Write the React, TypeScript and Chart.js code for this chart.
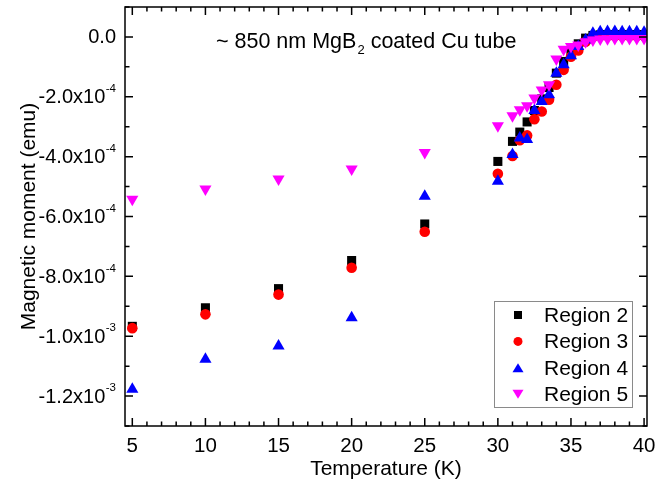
import React, { useEffect, useRef } from 'react';
import { Chart, registerables } from 'chart.js';

Chart.register(...registerables);

// ---- data (temperature in K, magnetic moment in emu) ----
const temperatureK = [5, 10, 15, 20, 25, 30, 31, 31.5, 32, 32.5, 33, 33.5, 34, 34.5, 35, 35.5, 36, 36.5, 37, 37.5, 38, 38.5, 39, 39.5, 40];

const region2 = [-9.67e-4, -9.05e-4, -8.41e-4, -7.47e-4, -6.25e-4, -4.16e-4, -3.49e-4, -3.18e-4, -2.84e-4, -2.46e-4, -2.07e-4, -1.69e-4, -1.21e-4, -0.82e-4, -0.49e-4, -0.23e-4, -0.04e-4, 0.05e-4, 0.07e-4, 0.08e-4, 0.08e-4, 0.08e-4, 0.08e-4, 0.08e-4, 0.08e-4];
const region3 = [-9.73e-4, -9.27e-4, -8.61e-4, -7.71e-4, -6.51e-4, -4.57e-4, -3.98e-4, -3.45e-4, -3.29e-4, -2.75e-4, -2.49e-4, -2.1e-4, -1.6e-4, -1.1e-4, -0.66e-4, -0.45e-4, -0.16e-4, 0.0, 0.03e-4, 0.03e-4, 0.03e-4, 0.03e-4, 0.03e-4, 0.03e-4, 0.03e-4];
const region4 = [-11.77e-4, -10.77e-4, -10.33e-4, -9.38e-4, -5.32e-4, -4.82e-4, -3.93e-4, -3.38e-4, -3.43e-4, -2.46e-4, -2.16e-4, -1.93e-4, -1.21e-4, -0.93e-4, -0.63e-4, -0.32e-4, -0.1e-4, 0.12e-4, 0.17e-4, 0.18e-4, 0.18e-4, 0.17e-4, 0.17e-4, 0.17e-4, 0.16e-4];
const region5 = [-5.42e-4, -5.08e-4, -4.75e-4, -4.41e-4, -3.86e-4, -2.97e-4, -2.63e-4, -2.43e-4, -2.3e-4, -2.04e-4, -1.77e-4, -1.6e-4, -0.74e-4, -0.41e-4, -0.32e-4, -0.27e-4, -0.16e-4, -0.1e-4, -0.07e-4, -0.06e-4, -0.05e-4, -0.05e-4, -0.05e-4, -0.05e-4, -0.05e-4];

const seriesNames = ['Region 2', 'Region 3', 'Region 4', 'Region 5'];

// ---- ticks ----
const xTickValues = [5, 10, 15, 20, 25, 30, 35, 40];
const xTickLabels = ['5', '10', '15', '20', '25', '30', '35', '40'];
const yTickValues = [0, -2e-4, -4e-4, -6e-4, -8e-4, -1.0e-3, -1.2e-3];
const yTickMantissa = ['0.0', '-2.0x10', '-4.0x10', '-6.0x10', '-8.0x10', '-1.0x10', '-1.2x10'];
const yTickExponent = ['', '-4', '-4', '-4', '-4', '-3', '-3'];

const FONT = '"Liberation Sans", Arial, sans-serif';

function drawMarker(ctx: CanvasRenderingContext2D, style: string, x: number, y: number, s: number, color: string) {
  ctx.fillStyle = color;
  ctx.beginPath();
  if (style === 'rect') {
    ctx.rect(x - s / 2, y - s / 2, s, s);
  } else if (style === 'circle') {
    ctx.arc(x, y, s / 2, 0, Math.PI * 2);
  } else if (style === 'up') {
    ctx.moveTo(x, y - s * 0.45);
    ctx.lineTo(x + s * 0.55, y + s * 0.45);
    ctx.lineTo(x - s * 0.55, y + s * 0.45);
    ctx.closePath();
  } else {
    ctx.moveTo(x, y + s * 0.45);
    ctx.lineTo(x + s * 0.55, y - s * 0.45);
    ctx.lineTo(x - s * 0.55, y - s * 0.45);
    ctx.closePath();
  }
  ctx.fill();
}

const originPlugin = {
  id: 'originFrame',
  afterDraw(chart: any) {
    const { ctx, chartArea: a, scales } = chart;
    const xs = scales.x;
    const ys = scales.y;
    ctx.save();
    ctx.strokeStyle = '#000';
    ctx.lineWidth = 1.5;
    ctx.strokeRect(a.left, a.top, a.right - a.left, a.bottom - a.top);

    const majorLen = 8;
    const minorLen = 4.5;
    ctx.beginPath();
    // x ticks (bottom & top), minor every 1 K
    for (let v = xTickValues[0]; v <= xTickValues[xTickValues.length - 1] + 1e-9; v += 1) {
      const px = xs.getPixelForValue(v);
      const len = xTickValues.includes(v) ? majorLen : minorLen;
      ctx.moveTo(px, a.bottom);
      ctx.lineTo(px, a.bottom - len);
      ctx.moveTo(px, a.top);
      ctx.lineTo(px, a.top + len);
    }
    // y ticks (left & right), minor every 1e-4
    for (let i = -13; i <= 1; i++) {
      const v = i * 1e-4;
      const py = ys.getPixelForValue(v);
      const len = i % 2 === 0 ? majorLen : minorLen;
      ctx.moveTo(a.left, py);
      ctx.lineTo(a.left + len, py);
      ctx.moveTo(a.right, py);
      ctx.lineTo(a.right - len, py);
    }
    ctx.stroke();

    // x tick labels
    ctx.fillStyle = '#000';
    ctx.font = `20.5px ${FONT}`;
    ctx.textAlign = 'center';
    ctx.textBaseline = 'alphabetic';
    xTickValues.forEach((v, i) => {
      ctx.fillText(xTickLabels[i], xs.getPixelForValue(v), a.bottom + 26);
    });

    // y tick labels with superscript exponents
    const rightEdge = a.left - 9;
    yTickValues.forEach((v, i) => {
      const py = ys.getPixelForValue(v);
      const exp = yTickExponent[i];
      ctx.textBaseline = 'middle';
      if (exp) {
        ctx.font = `11.5px ${FONT}`;
        const ew = ctx.measureText(exp).width;
        ctx.textAlign = 'left';
        ctx.fillText(exp, rightEdge - ew, py - 8);
        ctx.font = `20px ${FONT}`;
        ctx.textAlign = 'right';
        ctx.fillText(yTickMantissa[i], rightEdge - ew - 0.5, py + 1);
      } else {
        ctx.font = `20px ${FONT}`;
        ctx.textAlign = 'right';
        ctx.fillText(yTickMantissa[i], rightEdge, py + 1);
      }
    });

    // axis titles
    ctx.font = `21px ${FONT}`;
    ctx.textAlign = 'center';
    ctx.textBaseline = 'alphabetic';
    ctx.fillText('Temperature (K)', (a.left + a.right) / 2, a.bottom + 49);
    ctx.save();
    ctx.translate(35, (a.top + a.bottom) / 2);
    ctx.rotate(-Math.PI / 2);
    ctx.fillText('Magnetic moment (emu)', 0, 0);
    ctx.restore();

    // annotation with subscript
    ctx.textAlign = 'left';
    let tx = 216;
    const base = 48;
    const part1 = '~ 850 nm MgB';
    ctx.font = `21.5px ${FONT}`;
    ctx.fillText(part1, tx, base);
    tx += ctx.measureText(part1).width;
    ctx.font = `13px ${FONT}`;
    ctx.fillText('2', tx + 1, base + 6);
    tx += ctx.measureText('2').width + 1;
    ctx.font = `21.5px ${FONT}`;
    ctx.fillText(' coated Cu tube', tx, base);

    // legend
    const lx = 494, ly = 301, lw = 138, lh = 106;
    ctx.fillStyle = '#fff';
    ctx.fillRect(lx, ly, lw, lh);
    ctx.strokeStyle = '#8a8a8a';
    ctx.lineWidth = 1;
    ctx.strokeRect(lx + 0.5, ly + 0.5, lw, lh);
    const styles = ['rect', 'circle', 'up', 'down'];
    const colors = ['#000000', '#ff0000', '#0000ff', '#ff00ff'];
    const sizes = [8, 9, 10, 10];
    seriesNames.forEach((name, i) => {
      const ry = 315 + i * 26.4;
      drawMarker(ctx, styles[i], 518, ry, sizes[i], colors[i]);
      ctx.fillStyle = '#000';
      ctx.font = `21px ${FONT}`;
      ctx.textAlign = 'left';
      ctx.textBaseline = 'middle';
      ctx.fillText(name, 544, ry + 1);
    });
    ctx.restore();
  },
};

function toPoints(values: number[]) {
  return temperatureK.map((t, i) => ({ x: t, y: values[i] }));
}

export default function App() {
  const ref = useRef<HTMLCanvasElement | null>(null);
  useEffect(() => {
    document.body.style.margin = '0';
    const canvas = ref.current;
    if (!canvas) return;
    const chart = new Chart(canvas, {
      type: 'scatter',
      data: {
        datasets: [
          { label: seriesNames[0], data: toPoints(region2), pointStyle: 'rect', pointRadius: 6.4, backgroundColor: '#000000', borderWidth: 0, order: 4 },
          { label: seriesNames[1], data: toPoints(region3), pointStyle: 'circle', pointRadius: 5.3, backgroundColor: '#ff0000', borderWidth: 0, order: 3 },
          { label: seriesNames[2], data: toPoints(region4), pointStyle: 'triangle', pointRadius: 7, backgroundColor: '#0000ff', borderWidth: 0, order: 2 },
          { label: seriesNames[3], data: toPoints(region5), pointStyle: 'triangle', rotation: 180, pointRadius: 7, backgroundColor: '#ff00ff', borderWidth: 0, order: 1 },
        ] as any,
      },
      options: {
        animation: false,
        responsive: false,
        events: [],
        layout: { padding: { top: 7, right: 8, left: 0, bottom: 0 } },
        plugins: { legend: { display: false }, tooltip: { enabled: false }, title: { display: false } },
        scales: {
          x: {
            type: 'linear',
            min: 4.5,
            max: 40.2,
            ticks: { display: false },
            grid: { display: false },
            border: { display: false },
            afterFit: (s: any) => { s.height = 59; },
          },
          y: {
            type: 'linear',
            min: -1.3e-3,
            max: 1e-4,
            ticks: { display: false },
            grid: { display: false },
            border: { display: false },
            afterFit: (s: any) => { s.width = 125; },
          },
        },
      } as any,
      plugins: [originPlugin],
    });
    return () => chart.destroy();
  }, []);
  return <canvas ref={ref} width={655} height={485} style={{ display: 'block' }} />;
}
